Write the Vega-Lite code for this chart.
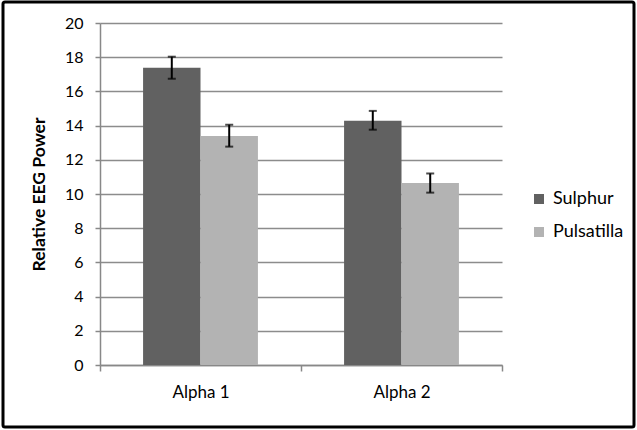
{
  "$schema": "https://vega.github.io/schema/vega-lite/v6.json",
  "width": 631,
  "height": 425,
  "autosize": {"type": "none"},
  "padding": {"left": 3, "top": 2, "right": 3, "bottom": 3},
  "background": "white",
  "config": {
    "view": {"stroke": "#000000", "strokeWidth": 3, "fill": "white", "cornerRadius": 2},
    "font": "Lato",
    "axis": {"labelFont": "Lato", "titleFont": "Lato", "labelColor": "#000000", "titleColor": "#000000"}
  },
  "data": {
    "values": [
      {"band": "Alpha 1", "group": "Sulphur", "value": 17.38, "lo": 16.74, "hi": 18.03},
      {"band": "Alpha 1", "group": "Pulsatilla", "value": 13.39, "lo": 12.77, "hi": 14.05},
      {"band": "Alpha 2", "group": "Sulphur", "value": 14.29, "lo": 13.76, "hi": 14.86},
      {"band": "Alpha 2", "group": "Pulsatilla", "value": 10.64, "lo": 10.08, "hi": 11.2}
    ]
  },
  "encoding": {
    "x": {
      "field": "band",
      "type": "nominal",
      "scale": {"range": [97, 499], "paddingInner": 0, "paddingOuter": 0},
      "axis": {
        "title": null,
        "offset": -62,
        "labelAngle": 0,
        "labelFontSize": 17,
        "labelPadding": 13,
        "tickBand": "extent",
        "tickSize": 6,
        "tickColor": "#888888",
        "domainColor": "#888888",
        "domainWidth": 1.5,
        "tickWidth": 1.5,
        "grid": false
      }
    },
    "xOffset": {
      "field": "group",
      "type": "nominal",
      "scale": {"domain": ["Sulphur", "Pulsatilla"], "paddingInner": 0, "paddingOuter": 0.75}
    }
  },
  "layer": [
    {
      "mark": {"type": "bar"},
      "encoding": {
        "y": {
          "field": "value",
          "type": "quantitative",
          "scale": {"domain": [0, 20], "range": [363, 21], "nice": false},
          "axis": {
            "title": "Relative EEG Power",
            "titleFontSize": 17.5,
            "titleFontWeight": "bold",
            "titlePadding": 16,
            "offset": -97,
            "values": [0, 2, 4, 6, 8, 10, 12, 14, 16, 18, 20],
            "labelFontSize": 16,
            "labelPadding": 12,
            "tickSize": 5,
            "tickColor": "#888888",
            "tickWidth": 1.5,
            "domainColor": "#888888",
            "domainWidth": 1.5,
            "grid": true,
            "gridColor": "#8c8c8c",
            "gridWidth": 1.5
          }
        },
        "color": {
          "field": "group",
          "type": "nominal",
          "scale": {"domain": ["Sulphur", "Pulsatilla"], "range": ["#616161", "#b3b3b3"]},
          "legend": {
            "title": null,
            "orient": "none",
            "legendX": 527,
            "legendY": 188,
            "symbolType": "square",
            "symbolSize": 100,
            "symbolStrokeWidth": 0,
            "labelFontSize": 18,
            "labelFont": "Lato",
            "labelColor": "#000000",
            "rowPadding": 15,
            "padding": 0,
            "labelOffset": 5
          }
        }
      }
    },
    {
      "mark": {"type": "rule", "color": "#000000", "strokeWidth": 2},
      "encoding": {
        "y": {"field": "lo", "type": "quantitative"},
        "y2": {"field": "hi"}
      }
    },
    {
      "mark": {"type": "tick", "color": "#000000", "thickness": 2, "size": 8},
      "encoding": {"y": {"field": "lo", "type": "quantitative"}}
    },
    {
      "mark": {"type": "tick", "color": "#000000", "thickness": 2, "size": 8},
      "encoding": {"y": {"field": "hi", "type": "quantitative"}}
    }
  ]
}
